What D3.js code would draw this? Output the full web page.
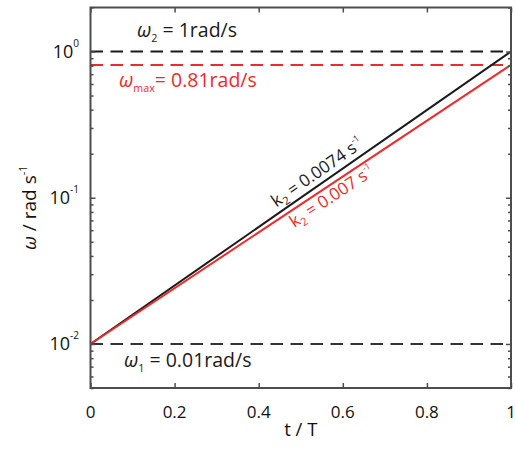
<!DOCTYPE html>
<html><head><meta charset="utf-8">
<script src="https://cdn.jsdelivr.net/npm/d3@7"></script>
<style>
body{margin:0;background:#fff;}
text{font-family:"Open Sans",sans-serif;}
</style></head>
<body><svg id="c" width="515" height="449"></svg>
<script>
const tValues = [0, 1];
const omegaK2Black = [0.01, 1];
const omegaK2Red = [0.01, 0.81];
const levelW2 = 1, levelWmax = 0.81, levelW1 = 0.01;
const xTicks = [0, 0.2, 0.4, 0.6, 0.8, 1];
const xTickLabels = ["0", "0.2", "0.4", "0.6", "0.8", "1"];
const yMajor = [0.01, 0.1, 1];
const yExp = ["-2", "-1", "0"];
const yMinor = [0.005,0.006,0.007,0.008,0.009,0.02,0.03,0.04,0.05,0.06,0.07,0.08,0.09,0.2,0.3,0.4,0.5,0.6,0.7,0.8,0.9,2];

const svg = d3.select("#c");
const L = 90.5, R = 511, T = 7.5, B = 388;
const x = d3.scaleLinear().domain([0, 1]).range([L, R]);
const y = d3.scaleLog().domain([0.005, 2]).range([B, T]);
const black = "#1a1a1a", red = "#ee2a2a", axisC = "#4d4d4d";

// reference dashed lines
[[levelW2, black], [levelWmax, red], [levelW1, "#333"]].forEach(([v, c]) => {
  svg.append("line").attr("x1", x(0)).attr("x2", x(1)).attr("y1", y(v)).attr("y2", y(v))
    .attr("stroke", c).attr("stroke-width", 2).attr("stroke-dasharray", "12.5,7.5");
});

// lines
const lineGen = d3.line().x(d => x(d[0])).y(d => y(d[1]));
svg.append("path").datum(tValues.map((t, i) => [t, omegaK2Black[i]])).attr("d", lineGen)
  .attr("fill", "none").attr("stroke", black).attr("stroke-width", 2);
svg.append("path").datum(tValues.map((t, i) => [t, omegaK2Red[i]])).attr("d", lineGen)
  .attr("fill", "none").attr("stroke", red).attr("stroke-width", 2);

// box
svg.append("rect").attr("x", L).attr("y", T).attr("width", R - L).attr("height", B - T)
  .attr("fill", "none").attr("stroke", axisC).attr("stroke-width", 2);

// axes ticks (inward)
const gB = svg.append("g").attr("transform", `translate(0,${B})`)
  .call(d3.axisTop(x).tickValues(xTicks).tickSize(5).tickFormat(""));
const gT = svg.append("g").attr("transform", `translate(0,${T})`)
  .call(d3.axisBottom(x).tickValues(xTicks).tickSize(5).tickFormat(""));
const gL = svg.append("g").attr("transform", `translate(${L},0)`)
  .call(d3.axisRight(y).tickValues(yMajor).tickSize(5).tickFormat(""));
const gLm = svg.append("g").attr("transform", `translate(${L},0)`)
  .call(d3.axisRight(y).tickValues(yMinor).tickSize(3).tickFormat(""));
const gR = svg.append("g").attr("transform", `translate(${R},0)`)
  .call(d3.axisLeft(y).tickValues(yMajor).tickSize(5).tickFormat(""));
const gRm = svg.append("g").attr("transform", `translate(${R},0)`)
  .call(d3.axisLeft(y).tickValues(yMinor).tickSize(3).tickFormat(""));
[gB, gT, gL, gLm, gR, gRm].forEach(g => {
  g.select(".domain").remove();
  g.selectAll(".tick line").attr("stroke", axisC).attr("stroke-width", 1.5);
});

// x tick labels
svg.append("g").selectAll("text").data(xTicks).join("text")
  .attr("x", d => x(d)).attr("y", 418).attr("text-anchor", "middle")
  .attr("font-size", 17).attr("fill", "#111").text((d, i) => xTickLabels[i]);

// y tick labels
const yl = svg.append("g").selectAll("text").data(yMajor).join("text")
  .attr("x", 79).attr("y", d => y(d) + 6.5).attr("text-anchor", "end")
  .attr("font-size", 18).attr("fill", "#111");
yl.append("tspan").text("10");
yl.append("tspan").attr("font-size", 10).attr("dy", -11).text((d, i) => yExp[i]);

// axis labels
svg.append("text").attr("x", (L + R) / 2).attr("y", 436).attr("text-anchor", "middle")
  .attr("font-size", 18.5).attr("fill", "#111").text("t / T");
const yLab = svg.append("text").attr("transform", `translate(36,${(T + B) / 2 + 10}) rotate(-90)`)
  .attr("text-anchor", "middle").attr("font-size", 19).attr("fill", "#111");
yLab.append("tspan").attr("font-style", "italic").text("ω");
yLab.append("tspan").text(" / rad s");
yLab.append("tspan").attr("font-size", 11).attr("dy", -9).text("-1");

// annotations
function omegaLabel(px, py, sub, rest, color, fs) {
  const t = svg.append("text").attr("x", px).attr("y", py).attr("font-size", fs).attr("fill", color);
  t.append("tspan").attr("font-style", "italic").text("ω");
  t.append("tspan").attr("font-size", fs * 0.55).attr("dy", 5).text(sub);
  t.append("tspan").attr("dy", -5).text(rest);
}
omegaLabel(137, 37, "2", "  = 1rad/s", black, 19.5);
omegaLabel(119, 87, "max", "= 0.81rad/s", red, 19.5);
omegaLabel(124, 367, "1", "  = 0.01rad/s", black, 19.5);

// rotated k labels
function kLabel(tPos, vals, off, text, color) {
  const p0 = [x(tValues[0]), y(vals[0])], p1 = [x(tValues[1]), y(vals[1])];
  const ang = Math.atan2(p1[1] - p0[1], p1[0] - p0[0]) * 180 / Math.PI;
  const px = x(tPos), py = p0[1] + (p1[1] - p0[1]) * (px - p0[0]) / (p1[0] - p0[0]);
  const t = svg.append("text").attr("transform", `translate(${px},${py}) rotate(${ang})`)
    .attr("font-size", 17).attr("fill", color).attr("text-anchor", "middle");
  t.append("tspan").attr("x", 0).attr("y", off).text("k");
  t.append("tspan").attr("font-size", 11).attr("dy", 4).text("2");
  t.append("tspan").attr("dy", -4).text(text);
  t.append("tspan").attr("font-size", 9).attr("dy", -8).text("-1");
}
kLabel(0.555, omegaK2Black, -6, " = 0.0074 s", black);
kLabel(0.56, omegaK2Red, 16, " = 0.007 s", red);
</script></body></html>
